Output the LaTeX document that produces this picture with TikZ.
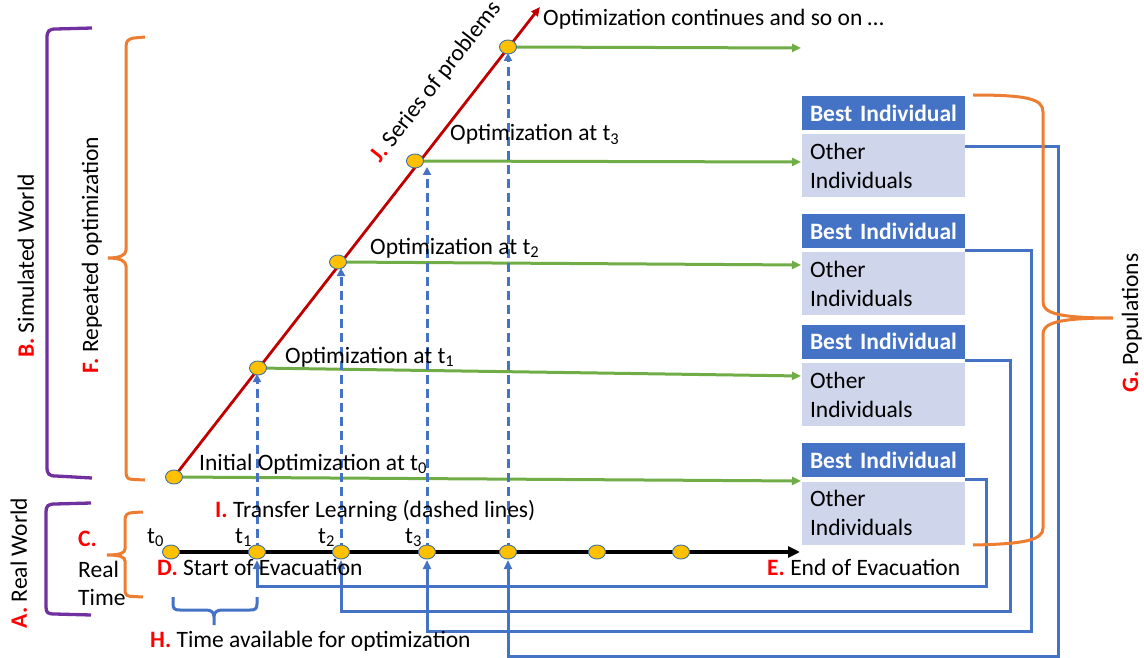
\documentclass[tikz,border=0pt]{standalone}
\usepackage{fontspec}
\setmainfont{Carlito}
\usetikzlibrary{arrows.meta,shapes.geometric,calc}
\definecolor{cgreen}{HTML}{70AD47}
\definecolor{cblue}{HTML}{4472C4}
\definecolor{clight}{HTML}{CFD5EA}
\definecolor{cred}{HTML}{C00000}
\definecolor{corange}{HTML}{ED7D31}
\definecolor{cpurple}{HTML}{7030A0}
\definecolor{cgold}{HTML}{FFC000}
\definecolor{cdotline}{HTML}{41719C}
\definecolor{clabel}{HTML}{FF0000}
\newcommand{\lbl}[1]{\textcolor{clabel}{\textbf{#1}}}
\begin{document}
\begin{tikzpicture}[x=1pt,y=-1pt,
  font=\fontsize{23.5}{29}\selectfont,
  greenarrow/.style={cgreen, line width=3pt, -{Triangle[length=9pt,width=8pt]}},
  bluearrow/.style={cblue, line width=3pt, -{Triangle[length=9pt,width=8pt]}},
  dasharrow/.style={cblue, line width=3pt, dash pattern=on 9pt off 5pt, -{Triangle[length=8pt,width=8pt]}},
  dotnode/.style={ellipse, fill=cgold, draw=cdotline, line width=0.9pt, minimum width=17pt, minimum height=14pt, inner sep=0pt},
  hdr/.style={rectangle, fill=cblue, text=white, font=\fontsize{23.5}{29}\selectfont\bfseries, minimum height=34pt, text width=147pt, inner xsep=8pt, inner ysep=0pt, align=left},
  oth/.style={rectangle, fill=clight, minimum height=63pt, text width=147pt, inner xsep=8pt, inner ysep=0pt, align=left},
  txt/.style={inner sep=0pt},
  bracepurple/.style={cpurple, line width=3.3pt},
  braceorange/.style={corange, line width=3pt},
  braceblue/.style={cblue, line width=3pt}]
\useasboundingbox (0,0) rectangle (1144,658);

% population boxes
\node[hdr] (b1) at (883.5,113) {Best Individual};
\node[oth] (o1) at (883.5,165.5) {Other\\Individuals};
\node[hdr] (b2) at (883.5,231) {Best Individual};
\node[oth] (o2) at (883.5,283.5) {Other\\Individuals};
\node[hdr] (b3) at (883.5,341.5) {Best Individual};
\node[oth] (o3) at (883.5,394.5) {Other\\Individuals};
\node[hdr] (b4) at (883.5,460) {Best Individual};
\node[oth] (o4) at (883.5,513) {Other\\Individuals};

% free ends of arrows
\coordinate (redtip) at (540,7);
\coordinate (tend) at (800,552);
\coordinate (g0) at (801,481);
\coordinate (g1) at (801,376);
\coordinate (g2) at (801,265);
\coordinate (g3) at (801,162);
\coordinate (g4) at (801,48);

% positions of the optimization points
\coordinate (p0) at (174,477);
\coordinate (p1) at (258,368);
\coordinate (p2) at (338,262);
\coordinate (p3) at (415,161);
\coordinate (p4) at (508,47);

% optimization runs feeding the populations
\draw[greenarrow] (p0) -- (g0);
\draw[greenarrow] (p1) -- (g1);
\draw[greenarrow] (p2) -- (g2);
\draw[greenarrow] (p3) -- (g3);
\draw[greenarrow] (p4) -- (g4);

% series of problems
\draw[cred, line width=2.8pt, -{Triangle[length=9pt,width=8pt]}] (p0) -- (redtip);

% diagonal dots
\node[dotnode] (d0) at (p0) {};
\node[dotnode] (d1) at (p1) {};
\node[dotnode] (d2) at (p2) {};
\node[dotnode] (d3) at (p3) {};
\node[dotnode] (d4) at (p4) {};

% positions of the real-time points
\coordinate (q0) at (171,552);
\coordinate (q1) at (257,552);
\coordinate (q2) at (341,552);
\coordinate (q3) at (427,552);
\coordinate (q4) at (508,552);
\coordinate (q5) at (597,552);
\coordinate (q6) at (681,552);

% transfer learning
\draw[dasharrow] (q1) -- ($(q1 |- d1.center)+(0,6)$);
\draw[dasharrow] (q2) -- ($(q2 |- d2.center)+(0,6)$);
\draw[dasharrow] (q3) -- ($(q3 |- d3.center)+(0,6)$);
\draw[dasharrow] (q4) -- ($(q4 |- d4.center)+(0,6)$);

% populations returned to real time
\draw[bluearrow] ($(o1.north east)+(0,13)$) -| (1058,656) -| ($(q4)+(0,8)$);
\draw[bluearrow] ($(b2.south east)!0.5!(o2.north east)$) -| (1031,631) -| ($(q3)+(0,8)$);
\draw[bluearrow] ($(b3.south east)!0.5!(o3.north east)$) -| (1010,611) -| ($(q2)+(0,8)$);
\draw[bluearrow] ($(b4.south east)!0.5!(o4.north east)$) -| (986,586) -| ($(q1)+(0,8)$);

% real time axis
\draw[line width=4.5pt, -{Triangle[length=12pt,width=11pt]}] (q0) -- (tend);
\node[dotnode] (r0) at (q0) {};
\node[dotnode] (r1) at (q1) {};
\node[dotnode] (r2) at (q2) {};
\node[dotnode] (r3) at (q3) {};
\node[dotnode] (r4) at (q4) {};
\node[dotnode] (r5) at (q5) {};
\node[dotnode] (r6) at (q6) {};

% texts along the optimization runs
\node[txt, anchor=base west] (tcont) at (543,26) {Optimization continues and so on …};
\node[txt, anchor=base west] (topt3) at (450,141) {Optimization at t\textsubscript{3}};
\node[txt, anchor=base west] (topt2) at (370,254) {Optimization at t\textsubscript{2}};
\node[txt, anchor=base west] (topt1) at (285,363) {Optimization at t\textsubscript{1}};
\node[txt, anchor=base west] (topt0) at (199,470) {Initial Optimization at t\textsubscript{0}};
\node[txt, anchor=base, rotate=52] (tser) at (441,86) {\lbl{J.} Series of problems};

% real time labels
\node[txt, anchor=base west] (ttl) at (215,517) {\lbl{I.} Transfer Learning (dashed lines)};
\node[txt, anchor=base west] (lt0) at (147,543) {t\textsubscript{0}};
\node[txt, anchor=base west] (lt1) at (235,543) {t\textsubscript{1}};
\node[txt, anchor=base west] (lt2) at (318,543) {t\textsubscript{2}};
\node[txt, anchor=base west] (lt3) at (405,543) {t\textsubscript{3}};
\node[txt, anchor=base west] (tstart) at (157,575) {\lbl{D.} Start of Evacuation};
\node[txt, anchor=base west] (tend2) at (767,575) {\lbl{E.} End of Evacuation};
\node[txt, anchor=base west] (thav) at (150,647) {\lbl{H.} Time available for optimization};
\node[txt, anchor=base west] (lc) at (78,546) {\lbl{C.}};
\node[txt, anchor=base west] (lreal) at (78,577) {Real};
\node[txt, anchor=base west] (ltime) at (78,605) {Time};

% side labels
\node[txt, anchor=base, rotate=90] (la) at (27,563) {\lbl{A.} Real World};
\node[txt, anchor=base, rotate=90] (lb) at (34,266) {\lbl{B.} Simulated World};
\node[txt, anchor=base, rotate=90] (lf) at (98,255) {\lbl{F.} Repeated optimization};
\node[txt, anchor=base, rotate=90] (lg) at (1138,323) {\lbl{G.} Populations};

% brackets and braces
\draw[bracepurple] (92,28) -- (56,29) .. controls (49,29) and (47,31) .. (47,38) -- (47,467) .. controls (47,474) and (49,476) .. (56,476) -- (92,478);
\draw[bracepurple] (91,503) -- (55,504) .. controls (48,504) and (46,506) .. (46,512) -- (46,607) .. controls (46,613) and (48,614) .. (55,614) -- (91,615);
\draw[braceorange] (145,37) -- (134,38) .. controls (128,39) and (126,41) .. (126,47) -- (126,250) .. controls (126,255) and (120,258) .. (108,258) .. controls (120,258) and (126,261) .. (126,266) -- (126,472) .. controls (126,478) and (128,479.5) .. (134,479.5) -- (145,480);
\draw[braceorange] (143,512) -- (133,512.5) .. controls (127,513) and (125,515) .. (125,520) -- (125,549) .. controls (125,553) and (120,555) .. (107,555) .. controls (120,555) and (125,557) .. (125,561) -- (125,590) .. controls (125,595) and (127,596.5) .. (133,596.5) -- (143,597);
\draw[braceorange] (973,95) .. controls (1028,95) and (1043,99) .. (1043,112) -- (1043,302) .. controls (1043,313) and (1058,318) .. (1113,318) .. controls (1058,318) and (1043,323) .. (1043,334) -- (1043,528) .. controls (1043,540) and (1025,544) .. (973,545);
\draw[braceblue] (173,597) -- (173,604) .. controls (173,609) and (175,610) .. (180,610) -- (206,610) .. controls (211,610) and (214,612) .. (214,617) -- (214,625)
  (214,617) .. controls (214,612) and (217,610) .. (222,610) -- (250,610) .. controls (255,610) and (257,609) .. (257,604) -- (257,597);
\end{tikzpicture}
\end{document}
